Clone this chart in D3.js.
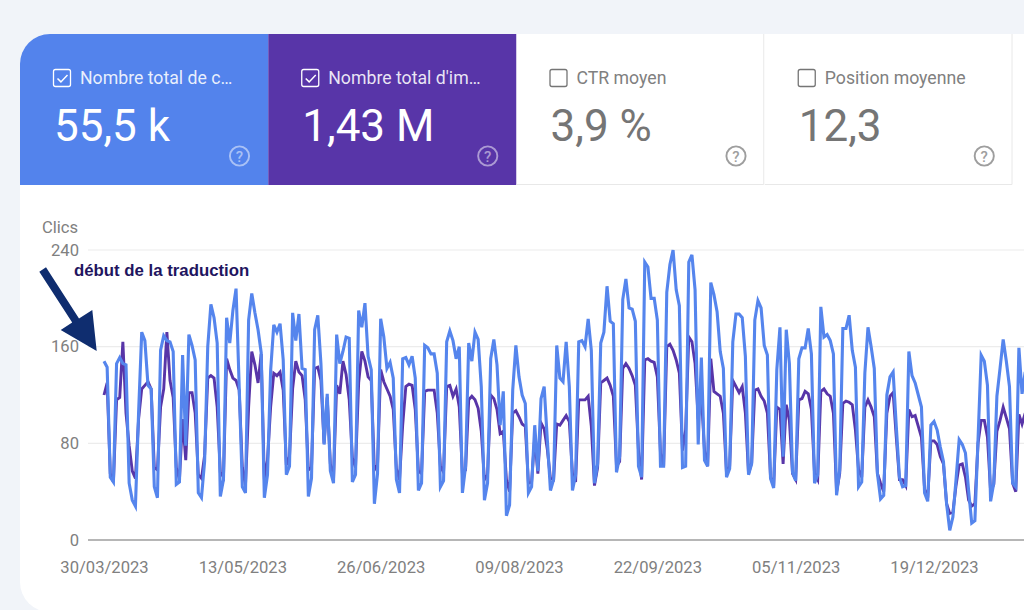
<!DOCTYPE html>
<html>
<head>
<meta charset="utf-8">
<script src="https://cdn.jsdelivr.net/npm/d3@7"></script>
<style>
  html, body { margin: 0; padding: 0; background: #f1f4f9; overflow: hidden; }
  text { font-family: Roboto, sans-serif; }
</style>
</head>
<body>
<script>
// tiles
const tileLabels = ["Nombre total de c…", "Nombre total d'im…", "CTR moyen", "Position moyenne"];
const tileValues = ["55,5 k", "1,43 M", "3,9 %", "12,3"];
const tileFills = ["#5383ec", "#5835a8", "#ffffff", "#ffffff"];
const tileChecked = [true, true, false, false];

// axis
const yTicks = [0, 80, 160, 240];
const xTickLabels = ["30/03/2023", "13/05/2023", "26/06/2023", "09/08/2023", "22/09/2023", "05/11/2023", "19/12/2023"];

// daily clicks, starts 30/03/2023
const clicks = [
  148,143,52,48,146,151,146,145,47,33,
  28,105,172,165,128,125,44,35,157,169,
  165,164,156,46,48,153,78,170,161,149,
  39,35,65,160,195,184,163,36,50,184,
  163,190,208,127,44,39,182,204,188,174,
  155,35,54,140,178,172,179,149,54,61,
  188,165,187,142,141,36,51,174,186,146,
  79,121,57,47,170,146,156,168,167,48,
  54,190,176,196,152,141,30,55,183,168,
  142,147,134,50,39,150,151,145,152,134,
  41,47,161,159,154,154,138,44,49,164,
  173,165,150,160,39,61,163,148,172,166,
  127,33,47,150,166,145,95,123,20,29,
  124,161,135,120,113,39,44,95,57,117,
  127,83,41,50,161,134,131,164,127,41,
  54,164,165,160,183,157,47,63,163,172,
  210,181,179,56,69,199,216,192,191,181,
  61,52,230,226,200,200,182,61,61,205,
  228,240,207,194,60,61,230,236,207,79,
  151,66,61,213,203,189,156,142,52,59,
  164,187,187,184,152,54,63,182,198,192,
  161,153,51,43,141,176,69,174,146,56,
  49,150,159,159,175,154,47,54,193,168,
  170,165,154,37,58,175,175,186,157,143,
  44,48,138,176,160,142,55,34,37,120,
  135,139,94,52,44,45,156,136,130,120,
  110,39,32,95,98,91,77,65,30,8,
  19,50,83,79,72,41,14,16,83,153,
  148,128,32,47,119,142,166,148,127,47,
  44,159,121,139
];

// daily impressions, same dates, read against the left axis as drawn in the picture
const impressions = [
  120,130,55,48,116,118,164,105,78,57,
  51,100,125,128,131,125,60,58,110,125,
  172,132,118,60,50,100,66,122,122,105,
  54,51,70,134,136,134,110,56,52,150,
  141,134,132,124,60,45,110,156,145,130,
  154,50,66,110,138,136,139,124,62,69,
  125,148,139,136,116,58,60,142,143,132,
  80,118,63,50,128,121,148,137,116,68,
  60,130,156,148,135,132,58,62,141,131,
  125,119,108,59,50,95,127,129,128,108,
  57,55,123,124,124,124,105,61,56,127,
  128,119,125,110,55,58,116,119,116,109,
  90,50,54,120,117,108,88,90,50,40,
  105,107,102,96,94,47,48,85,55,97,
  92,75,51,50,96,95,99,103,98,55,
  48,116,116,116,119,94,45,60,130,132,
  134,128,119,61,65,142,146,142,136,128,
  74,50,149,150,148,147,135,72,61,160,
  162,157,149,138,74,91,168,164,146,100,
  120,74,61,150,123,121,119,105,55,61,
  132,127,122,127,105,55,64,124,125,119,
  115,105,52,45,110,108,63,112,99,55,
  50,116,117,123,121,108,55,50,123,125,
  121,119,105,40,55,113,115,114,112,91,
  58,52,110,116,110,102,55,47,40,105,
  119,122,85,50,50,45,108,102,103,94,
  85,42,35,82,82,79,69,63,30,22,
  23,45,62,63,52,33,28,30,80,99,
  99,85,40,46,90,99,110,101,92,47,
  40,104,96,105
];

const width = 1024, height = 610;
const startDate = new Date(Date.UTC(2023, 2, 30));
const dayMs = 86400000;
const dateAt = i => new Date(startDate.getTime() + i * dayMs);
const parseTick = s => {
  const p = s.split("/");
  return new Date(Date.UTC(+p[2], +p[1] - 1, +p[0]));
};

const svg = d3.select("body").append("svg")
  .attr("width", width)
  .attr("height", height)
  .style("display", "block");

// white card, rounded on the left, runs off the right edge
svg.append("rect")
  .attr("x", 20).attr("y", 34)
  .attr("width", 1100).attr("height", 578)
  .attr("rx", 30)
  .attr("fill", "#fff");

// tiles
const tileX = d3.scaleBand().domain(d3.range(4)).range([20, 1013]);
const tileW = tileX.bandwidth();
const tileTop = 34, tileBottom = 185;

const tiles = svg.selectAll("g.tile")
  .data(tileLabels)
  .enter().append("g")
  .attr("class", "tile")
  .attr("transform", (d, i) => `translate(${tileX(i)},0)`);

tiles.append("path")
  .attr("d", (d, i) => i === 0
    ? `M0,${tileBottom}V${tileTop + 30}A30,30 0 0 1 30,${tileTop}H${tileW}V${tileBottom}Z`
    : `M0,${tileBottom}V${tileTop}H${tileW}V${tileBottom}Z`)
  .attr("fill", (d, i) => tileFills[i]);

// right and bottom hairlines of the white tiles
tiles.filter((d, i) => !tileChecked[i]).append("path")
  .attr("d", `M${tileW - 1},${tileTop}V${tileBottom - 0.5}H0`)
  .attr("fill", "none")
  .attr("stroke", "#e8e8e8")
  .attr("stroke-width", 1);

const ink = i => tileChecked[i] ? "#fff" : "#757575";

tiles.append("rect")
  .attr("x", 33.5).attr("y", 69.5)
  .attr("width", 17).attr("height", 17)
  .attr("rx", 2)
  .attr("fill", "none")
  .attr("stroke", (d, i) => ink(i))
  .attr("stroke-width", 1.3);

tiles.filter((d, i) => tileChecked[i]).append("path")
  .attr("d", "M37.5,78.5l3.4,3.4l6.6,-6.8")
  .attr("fill", "none")
  .attr("stroke", "#fff")
  .attr("stroke-width", 1.5);

tiles.append("text")
  .attr("x", 60).attr("y", 83.5)
  .attr("font-size", 17.7)
  .attr("fill", (d, i) => tileChecked[i] ? "rgba(255,255,255,0.88)" : "#808080")
  .text(d => d);

tiles.append("text")
  .attr("x", 34).attr("y", 141)
  .attr("font-size", 44)
  .attr("fill", (d, i) => ink(i))
  .text((d, i) => tileValues[i]);

tiles.append("circle")
  .attr("cx", 219.5).attr("cy", 156)
  .attr("r", 9.6)
  .attr("fill", "none")
  .attr("stroke", (d, i) => tileChecked[i] ? "rgba(255,255,255,0.5)" : "#9e9e9e")
  .attr("stroke-width", 1.9);

tiles.append("text")
  .attr("x", 219.5).attr("y", 161.5)
  .attr("text-anchor", "middle")
  .attr("font-size", 15)
  .attr("font-weight", 500)
  .attr("fill", (d, i) => tileChecked[i] ? "rgba(255,255,255,0.5)" : "#9e9e9e")
  .text("?");

// scales: 3.144 px per day, runs past the right edge of the window
const x = d3.scaleUtc()
  .domain([dateAt(0), dateAt(293)])
  .range([104, 104 + 293 * 3.144]);
const y = d3.scaleLinear().domain([0, 240]).range([540, 250]);

// gridlines
svg.append("g")
  .selectAll("line")
  .data(yTicks.slice(1))
  .enter().append("line")
  .attr("x1", 88).attr("x2", width)
  .attr("y1", d => y(d)).attr("y2", d => y(d))
  .attr("stroke", "#ececec")
  .attr("stroke-width", 1.2);

// y axis
const yAxis = svg.append("g")
  .attr("transform", "translate(79,0)")
  .call(d3.axisLeft(y).tickValues(yTicks).tickSize(0).tickPadding(0));
yAxis.select(".domain").remove();
yAxis.selectAll("text")
  .attr("font-family", "Roboto, sans-serif")
  .attr("font-size", 16.6)
  .attr("fill", "#808080");

// x axis
const xAxis = svg.append("g")
  .attr("transform", "translate(0,540)")
  .call(d3.axisBottom(x)
    .tickValues(xTickLabels.map(parseTick))
    .tickFormat((d, i) => xTickLabels[i])
    .tickSize(0)
    .tickPadding(21));
xAxis.select(".domain").remove();
xAxis.selectAll("text")
  .attr("font-family", "Roboto, sans-serif")
  .attr("font-size", 16.6)
  .attr("fill", "#808080");

svg.append("line")
  .attr("x1", 88).attr("x2", width)
  .attr("y1", y(0)).attr("y2", y(0))
  .attr("stroke", "#9e9e9e")
  .attr("stroke-width", 1.4);

svg.append("text")
  .attr("x", 42).attr("y", 233)
  .attr("font-size", 16.6)
  .attr("fill", "#808080")
  .text("Clics");

// lines
const line = d3.line()
  .x((d, i) => x(dateAt(i)))
  .y(d => y(d));

svg.append("path")
  .datum(impressions)
  .attr("d", line)
  .attr("fill", "none")
  .attr("stroke", "#5835a8")
  .attr("stroke-width", 2.9);

svg.append("path")
  .datum(clicks)
  .attr("d", line)
  .attr("fill", "none")
  .attr("stroke", "#5585ed")
  .attr("stroke-width", 3.1);

// annotation
svg.append("path")
  .attr("d", "M39.3,271.7L46,267.3L79,318.4L92.3,310L96.7,351L60.7,330L72.2,322.6Z")
  .attr("fill", "#0f2d6f");

svg.append("text")
  .attr("x", 74).attr("y", 276)
  .style("font-family", "'Liberation Sans', Arial, sans-serif")
  .attr("font-weight", "bold")
  .attr("font-size", 16.8)
  .attr("fill", "#1f1560")
  .text("début de la traduction");
</script>
</body>
</html>
